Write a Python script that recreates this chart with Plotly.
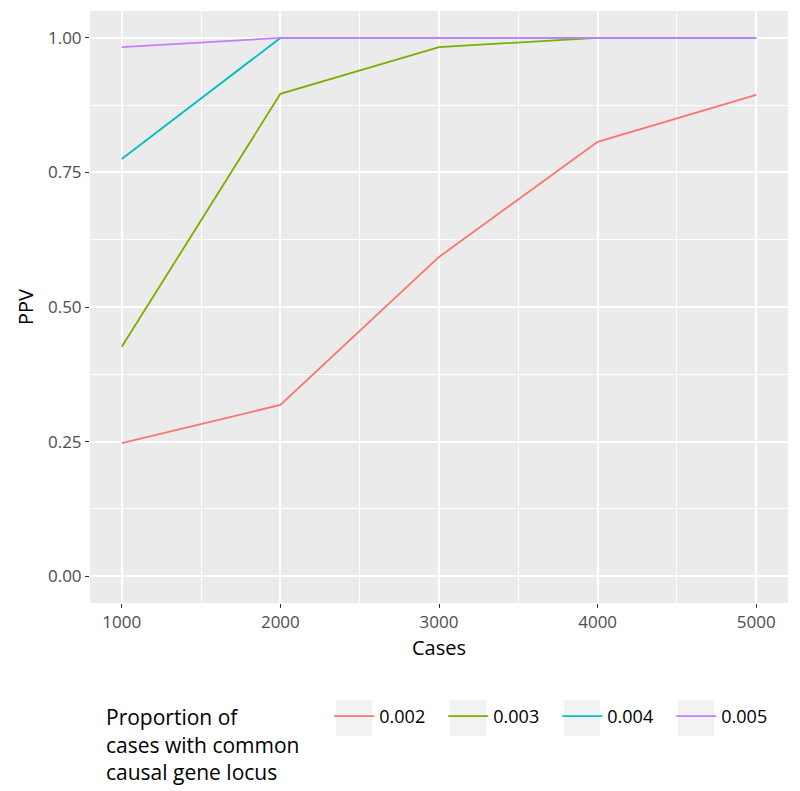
import plotly.graph_objects as go

cases = [1000, 2000, 3000, 4000, 5000]
groups = ["0.002", "0.003", "0.004", "0.005"]
ppv_0002 = [0.247, 0.318, 0.593, 0.807, 0.894]
ppv_0003 = [0.426, 0.896, 0.983, 1.0, 1.0]
ppv_0004 = [0.775, 1.0, 1.0, 1.0, 1.0]
ppv_0005 = [0.983, 1.0, 1.0, 1.0, 1.0]
series = [ppv_0002, ppv_0003, ppv_0004, ppv_0005]
colors = ["#F8766D", "#7CAE00", "#00BFC4", "#C77CFF"]

FONT = "Open Sans"

# page body has an 8px margin: figure is placed at (8, 8) in the window
OFF = 8
W, H = 800 - OFF, 791 - OFF
L, R, T, B = 90 - OFF, 12, 11 - OFF, 188
PW, PH = W - L - R, H - T - B


def px_to_paper_x(px):
    return (px - OFF - L) / PW


def px_to_paper_y(py):
    return (H - B - (py - OFF)) / PH


fig = go.Figure()
for g, vals, c in zip(groups, series, colors):
    fig.add_trace(go.Scatter(x=cases, y=vals, mode="lines", name=g,
                             line=dict(color=c, width=1.8)))

# light grey legend key backgrounds (ggplot style)
key_boxes = [(336, 372), (450, 486), (564, 600), (678, 714)]
for x0, x1 in key_boxes:
    fig.add_shape(type="rect", xref="paper", yref="paper",
                  x0=px_to_paper_x(x0), x1=px_to_paper_x(x1),
                  y0=px_to_paper_y(736), y1=px_to_paper_y(700),
                  fillcolor="#F2F2F2", line=dict(width=0), layer="above")

legend_title = "Proportion of<br>cases with common" + "&nbsp;" * 4 + "<br>causal gene locus"

fig.update_layout(
    width=W, height=H,
    margin=dict(l=L, r=R, t=T, b=B, autoexpand=False),
    paper_bgcolor="white",
    plot_bgcolor="#EBEBEB",
    font=dict(family=FONT, color="black", size=14),
    showlegend=True,
    legend=dict(
        orientation="h",
        x=px_to_paper_x(104), xanchor="left",
        y=px_to_paper_y(698), yanchor="top",
        title=dict(text=legend_title,
                   side="left", font=dict(size=21, family=FONT)),
        font=dict(size=18, family=FONT),
        itemwidth=40,
        entrywidth=59,
        bgcolor="rgba(0,0,0,0)",
    ),
)

fig.update_xaxes(
    range=[800, 5200], tickvals=cases, ticktext=[str(c) for c in cases],
    showgrid=True, gridcolor="white", gridwidth=1.6,
    minor=dict(dtick=500, tick0=500, showgrid=True, gridcolor="white", gridwidth=0.8),
    ticks="outside", ticklen=4, tickcolor="#333333", tickwidth=1.2,
    tickfont=dict(size=17, color="#4D4D4D"),
    title=dict(text="Cases", font=dict(size=20), standoff=8),
    zeroline=False, showline=False, automargin=False,
)
fig.update_yaxes(
    range=[-0.05, 1.05], tickvals=[0, 0.25, 0.5, 0.75, 1.0],
    ticktext=["0.00", "0.25", "0.50", "0.75", "1.00"],
    showgrid=True, gridcolor="white", gridwidth=1.6,
    minor=dict(dtick=0.125, tick0=0.125, showgrid=True, gridcolor="white", gridwidth=0.8),
    ticks="outside", ticklen=4, tickcolor="#333333", tickwidth=1.2,
    tickfont=dict(size=17, color="#4D4D4D"),
    title=dict(text="PPV", font=dict(size=20), standoff=8),
    zeroline=False, showline=False, automargin=False,
)

fig.write_html("out.html")
